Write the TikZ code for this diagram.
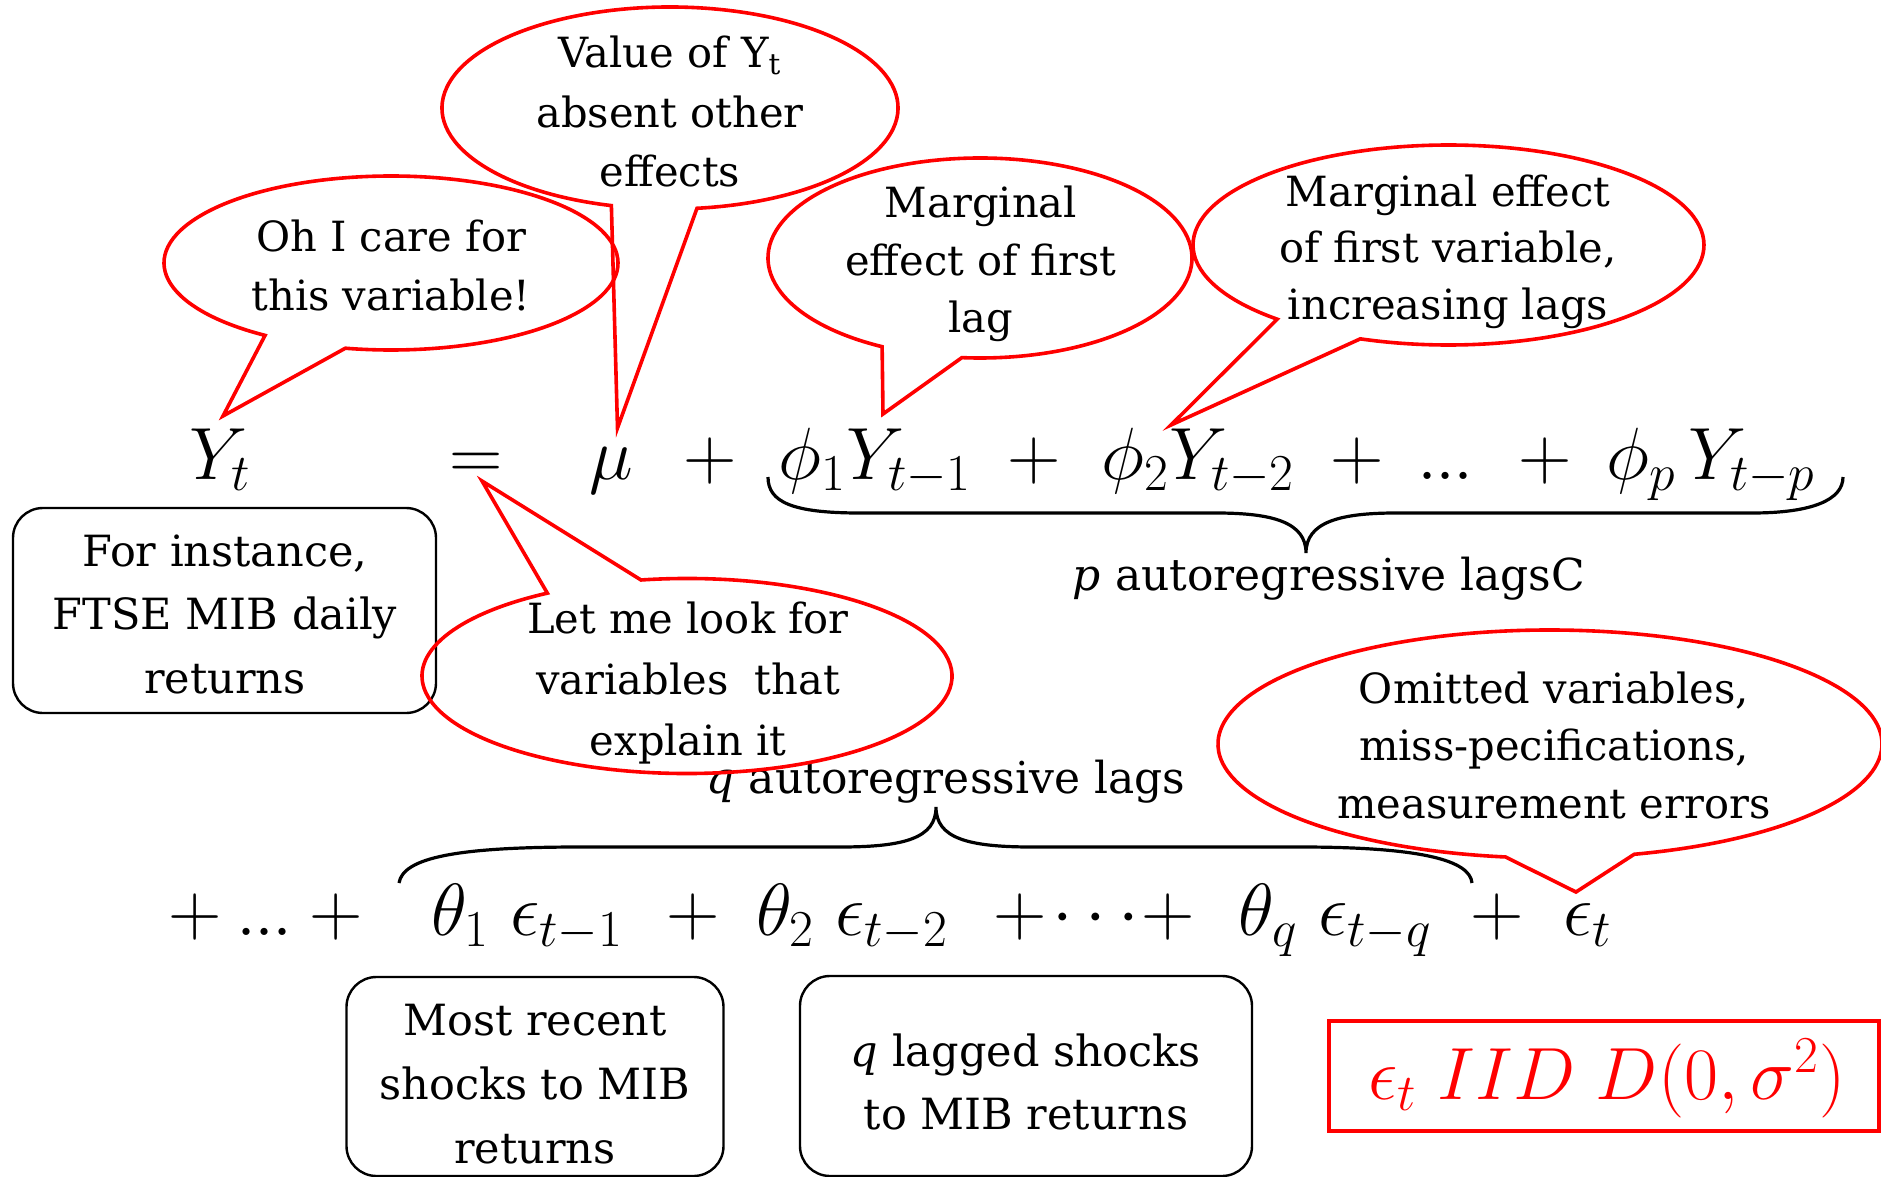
\RequirePackage{fix-cm}
\documentclass[tikz,border=0pt]{standalone}
\usepackage{fontspec}
\setmainfont{DejaVu Serif}
\newcommand\ml[1]{\begin{tabular}[t]{@{}c@{}}#1\end{tabular}}
\begin{document}
\begin{tikzpicture}[x=0.5pt,y=-0.5pt,
  callout/.style={draw=red, line width=1.8pt},
  txt/.style={inner sep=0pt, anchor=base, font=\fontsize{21.5}{#1}\selectfont},
  txt/.default=29.5,
  btxt/.style={inner sep=0pt, anchor=base, font=\fontsize{20.8}{#1}\selectfont},
  btxt/.default=29.5,
  lbl/.style={inner sep=0pt, anchor=base, font=\fontsize{22}{26}\selectfont},
  m/.style={inner sep=0pt, anchor=base, font=\fontsize{37}{44}\selectfont},
  rbox/.style={draw, line width=1.2pt, rounded corners=15pt, inner sep=0pt},
  brace/.style={line width=1.6pt}]
\useasboundingbox (0,0) rectangle (1881,1177);

% ---------- top equation ----------
\node[m] (Yt) at (220,479) {$Y_t$};
\node[m] (eqs) at (476,479) {$=$};
\node[m] (mu) at (611,479) {$\mu$};
\node[m] (pa) at (710,479) {$+$};
\node[m] (phi1) at (875,479) {$\phi_1 Y_{t-1}$};
\node[m] (pb) at (1034,479) {$+$};
\node[m] (phi2) at (1198,479) {$\phi_2 Y_{t-2}$};
\node[m] (pc) at (1357,479) {$+$};
\node[m] (dA) at (1446,479) {$.\kern-1pt.\kern-1pt.$};
\node[m] (pd) at (1545,479) {$+$};
\node[m] (phip) at (1711,479) {$\phi_p\, Y_{t-p}$};

% ---------- bottom equation ----------
\node[m] (qa) at (195,935) {$+$};
\node[m] (dB) at (265,935) {$.\kern-1pt.\kern-1pt.$};
\node[m] (qb) at (336,935) {$+$};
\node[m] (th1) at (527,935) {$\theta_1\;\epsilon_{t-1}$};
\node[m] (qc) at (693,935) {$+$};
\node[m] (th2) at (852,935) {$\theta_2\;\epsilon_{t-2}$};
\node[m] (qd) at (1020,935) {$+$};
\node[m] (cd) at (1096,935) {$\cdots$};
\node[m] (qe) at (1168,935) {$+$};
\node[m] (thq) at (1335,935) {$\theta_q\;\epsilon_{t-q}$};
\node[m] (qf) at (1497,935) {$+$};
\node[m] (et) at (1588,935) {$\epsilon_t$};

% ---------- braces ----------
\draw[brace] (768,477) .. controls (768,502) and (792,513) .. (860,513)
  -- (1216,513) .. controls (1272,513) and (1306,522) .. (1306,553)
  .. controls (1306,522) and (1340,513) .. (1396,513)
  -- (1752,513) .. controls (1812,513) and (1843,500) .. (1843,477);
\node[lbl] (lp) at (1329,590) {\textit{p} autoregressive lagsC};

\draw[brace] (399,883) .. controls (403,858) and (455,847) .. (580,847)
  -- (840,847) .. controls (905,847) and (936,838) .. (936,807)
  .. controls (936,838) and (967,847) .. (1032,847)
  -- (1300,847) .. controls (1420,847) and (1470,860) .. (1472,883);
\node[lbl] (lq) at (946,793) {\textit{q} autoregressive lags};

% ---------- boxes ----------
\node[rbox, minimum width=211.5pt, minimum height=102.5pt] (box1) at (224.5,610.5) {};
\node[txt=31.75] (box1t) at (225,566) {\ml{For instance,\\FTSE MIB daily\\returns}};
\node[rbox, minimum width=188.5pt, minimum height=99.5pt] (box2) at (535,1076.5) {};
\node[txt=32.2] (box2t) at (535,1035) {\ml{Most recent\\shocks to MIB\\returns}};
\node[rbox, minimum width=226pt, minimum height=100pt] (box3) at (1026,1076) {};
\node[txt=31.5] (box3t) at (1026,1066) {\ml{\textit{q} lagged shocks\\to MIB returns}};
\node[draw=red, line width=1.9pt, inner sep=0pt, minimum width=275pt, minimum height=55pt] (iid) at (1604,1076) {};
\node[m, red] (iidt) at (1607,1099) {$\epsilon_t\;IID\;D(0,\sigma^2)$};

% ---------- callouts ----------
\coordinate (c1) at (391,263);
\coordinate (t1) at (223,416);
\draw[callout] (c1) ++(123.7:227 and 87) arc[start angle=123.7, end angle=461.6, x radius=227, y radius=87] -- (t1) -- cycle;
\node[btxt=29.5] (b1t) at (391,251) {\ml{Oh I care for\\this variable!}};

\coordinate (c2) at (670,108);
\coordinate (t2) at (617.5,428);
\draw[callout] (c2) ++(104.9:228 and 101) arc[start angle=104.9, end angle=443.2, x radius=228, y radius=101] -- (t2) -- cycle;
\node[btxt=29.75] (b2t) at (670,68) {\ml{Value of Y\textsubscript{t}\\absent other\\effects}};

\coordinate (c3) at (980,258);
\coordinate (t3) at (883,414);
\draw[callout] (c3) ++(117.5:212 and 100) arc[start angle=117.5, end angle=454.9, x radius=212, y radius=100] -- (t3) -- cycle;
\node[btxt=28.75] (b3t) at (981,218) {\ml{Marginal\\effect of first\\lag}};

\coordinate (c4) at (1448.5,245);
\coordinate (t4) at (1171,425);
\draw[callout] (c4) ++(132.1:255.5 and 100) arc[start angle=132.1, end angle=470.2, x radius=255.5, y radius=100] -- (t4) -- cycle;
\node[btxt=28.2] (b4t) at (1448,206.6) {\ml{Marginal effect\\of first variable,\\increasing lags}};

\coordinate (c5) at (687,676);
\coordinate (t5) at (482,481);
\draw[callout] (c5) ++(260:265 and 97.5) arc[start angle=260, end angle=598.2, x radius=265, y radius=97.5] -- (t5) -- cycle;
\node[btxt=30.5] (b5t) at (688,633) {\ml{Let me look for\\variables~ that\\explain it}};

\coordinate (c6) at (1550,744);
\coordinate (t6) at (1576,892);
\draw[callout] (c6) ++(97.7:332 and 114) arc[start angle=97.7, end angle=435.3, x radius=332, y radius=114] -- (t6) -- cycle;
\node[btxt=28.75] (b6t) at (1554,703) {\ml{Omitted variables,\\miss-pecifications,\\measurement errors}};
\end{tikzpicture}
\end{document}
